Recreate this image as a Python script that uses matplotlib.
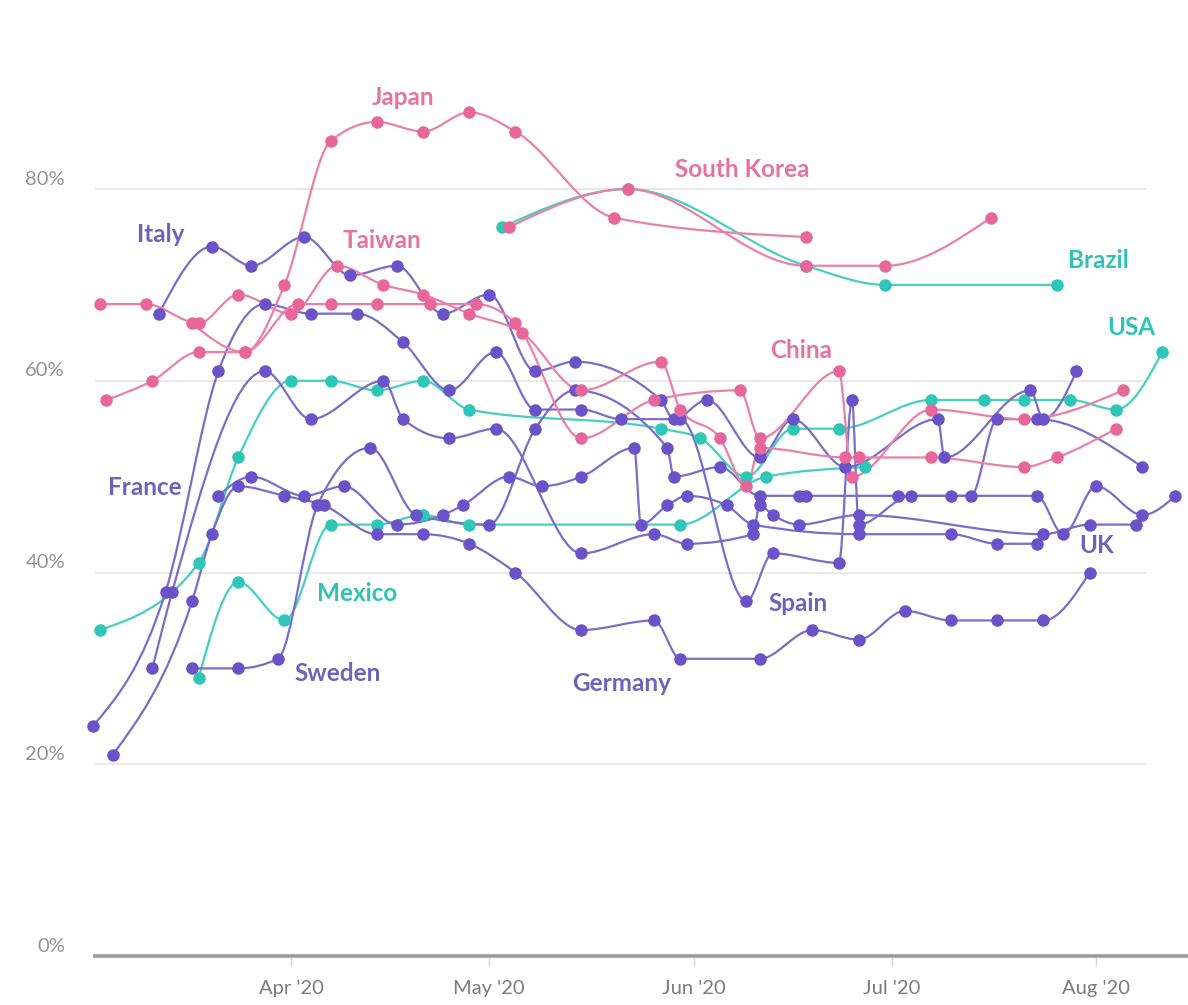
import datetime as dt
import numpy as np
import matplotlib
matplotlib.use("Agg")
import matplotlib.pyplot as plt
import matplotlib.dates as mdates
import matplotlib.transforms as mtransforms
from matplotlib.path import Path
from matplotlib.patches import PathPatch

YEAR = 2020

# ---------------- data (dates as MM-DD in 2020, values in %) ----------------
japan_dates = ["03-04", "03-11", "03-18", "03-25", "03-31", "04-07", "04-14", "04-21",
               "04-28", "05-05", "05-20", "06-18"]
japan_vals = [58, 60, 63, 63, 70, 85, 87, 86, 88, 86, 77, 75]

korea_dates = ["05-04", "05-22", "06-18", "06-30", "07-16"]
korea_vals = [76, 80, 72, 72, 77]

brazil_dates = ["05-03", "05-22", "06-18", "06-30", "07-26"]
brazil_vals = [76, 80, 72, 70, 70]

taiwan_dates = ["03-03", "03-10", "03-18", "03-24", "04-01", "04-08", "04-15", "04-21",
                "04-28", "05-06", "05-15", "05-27", "05-30", "06-05", "06-09", "06-11",
                "06-24", "06-26", "07-07", "07-21", "07-26", "08-04"]
taiwan_vals = [68, 68, 66, 69, 67, 72, 70, 69, 67, 65, 59, 62, 57, 54, 49, 53,
               52, 52, 52, 51, 52, 55]

china_dates = ["03-17", "03-25", "04-02", "04-07", "04-14", "04-22", "04-29", "05-05",
               "05-15", "05-26", "06-08", "06-11", "06-23", "06-25", "07-07", "07-21", "08-05"]
china_vals = [66, 63, 68, 68, 68, 68, 68, 66, 54, 58, 59, 54, 61, 50, 57, 56, 59]

usa_dates = ["03-03", "03-18", "03-24", "04-01", "04-07", "04-14", "04-21", "04-28",
             "05-27", "06-02", "06-09", "06-16", "06-23", "07-07", "07-15", "07-21",
             "07-28", "08-04", "08-11"]
usa_vals = [34, 41, 52, 60, 60, 59, 60, 57, 55, 54, 50, 55, 55, 58, 58, 58, 58, 57, 63]

mexico_dates = ["03-18", "03-24", "03-31", "04-07", "04-14", "04-21", "04-28", "05-30",
                "06-12", "06-27"]
mexico_vals = [29, 39, 35, 45, 45, 46, 45, 45, 50, 51]

italy_dates = ["03-12", "03-20", "03-26", "04-03", "04-10", "04-17", "04-24", "05-01",
               "05-08", "05-14", "05-27", "05-29", "06-03", "06-11", "06-16", "06-24",
               "07-08", "07-09", "07-22", "07-24", "07-29"]
italy_vals = [67, 74, 72, 75, 71, 72, 67, 69, 61, 62, 58, 56, 58, 52, 56, 51,
              56, 52, 59, 56, 61]

spain_dates = ["03-02", "03-13", "03-21", "03-28", "04-04", "04-11", "04-18", "04-25",
               "05-02", "05-08", "05-15", "05-21", "05-30", "06-09", "06-13", "06-23",
               "06-25", "06-26", "07-04", "07-13", "07-17", "07-23", "08-08"]
spain_vals = [24, 38, 61, 68, 67, 67, 64, 59, 63, 57, 57, 56, 56, 37, 42, 41,
              58, 45, 48, 48, 56, 56, 51]

uk_dates = ["03-11", "03-14", "03-28", "04-04", "04-15", "04-18", "04-25", "05-02",
            "05-15", "05-26", "05-31", "06-10", "06-11", "06-13", "06-17", "06-26",
            "07-24", "07-31", "08-07"]
uk_vals = [30, 38, 61, 56, 60, 56, 54, 55, 42, 44, 43, 44, 47, 46, 45, 46, 44, 45, 45]

france_dates = ["03-21", "03-26", "04-03", "04-09", "04-17", "04-24", "04-27", "05-04",
                "05-09", "05-15", "05-23", "05-24", "05-28", "05-31", "06-06", "06-10",
                "06-26", "07-10", "07-17", "07-23"]
france_vals = [48, 50, 48, 49, 45, 46, 47, 50, 49, 50, 53, 45, 47, 48, 47, 45,
               44, 44, 43, 43]

sweden_dates = ["03-17", "03-24", "03-30", "04-05", "04-13", "04-20", "05-01", "05-08",
                "05-14", "05-28", "05-29", "06-05", "06-11", "06-17", "06-18", "07-02",
                "07-10", "07-23", "07-27", "08-01", "08-08", "08-13"]
sweden_vals = [30, 30, 31, 47, 53, 46, 45, 55, 59, 53, 50, 51, 48, 48, 48, 48,
               48, 48, 44, 49, 46, 48]

germany_dates = ["03-05", "03-17", "03-20", "03-24", "03-31", "04-06", "04-14", "04-21",
                 "04-28", "05-05", "05-15", "05-26", "05-30", "06-11", "06-19", "06-26",
                 "07-03", "07-10", "07-17", "07-24", "07-31"]
germany_vals = [21, 37, 44, 49, 48, 47, 44, 44, 43, 40, 34, 35, 31, 31, 34, 33,
                36, 35, 35, 35, 40]

y_ticks = [0, 20, 40, 60, 80]
y_tick_labels = ["0%", "20%", "40%", "60%", "80%"]

# ---------------- styling ----------------
PINK_L, PINK_M = "#ec7fa8", "#e8679b"
PURP_L, PURP_M = "#7b6cc8", "#6a52c8"
TEAL_L, TEAL_M = "#45cfc2", "#2fc6b8"
PINK_T, PURP_T, TEAL_T = "#e5739f", "#7062bb", "#2fc3b5"

series = [
    ("Mexico", mexico_dates, mexico_vals, TEAL_L, TEAL_M),
    ("USA", usa_dates, usa_vals, TEAL_L, TEAL_M),
    ("Brazil", brazil_dates, brazil_vals, TEAL_L, TEAL_M),
    ("Germany", germany_dates, germany_vals, PURP_L, PURP_M),
    ("Sweden", sweden_dates, sweden_vals, PURP_L, PURP_M),
    ("France", france_dates, france_vals, PURP_L, PURP_M),
    ("UK", uk_dates, uk_vals, PURP_L, PURP_M),
    ("Spain", spain_dates, spain_vals, PURP_L, PURP_M),
    ("Italy", italy_dates, italy_vals, PURP_L, PURP_M),
    ("China", china_dates, china_vals, PINK_L, PINK_M),
    ("Taiwan", taiwan_dates, taiwan_vals, PINK_L, PINK_M),
    ("Japan", japan_dates, japan_vals, PINK_L, PINK_M),
    ("South Korea", korea_dates, korea_vals, PINK_L, PINK_M),
]

BASE = mdates.date2num(dt.datetime(YEAR, 3, 1))

# label positions (days after Mar 1, value)
label_layout = [
    ("Japan", 47.9, 89.5, PINK_T), ("South Korea", 99.3, 82.0, PINK_T),
    ("Italy", 11.3, 75.3, PURP_T), ("Taiwan", 44.8, 74.6, PINK_T),
    ("Brazil", 153.3, 72.5, TEAL_T), ("USA", 158.3, 65.6, TEAL_T),
    ("China", 108.3, 63.2, PINK_T), ("France", 8.9, 48.9, PURP_T),
    ("Mexico", 41.0, 37.8, TEAL_T), ("Sweden", 38.1, 29.5, PURP_T),
    ("Germany", 81.1, 28.4, PURP_T), ("Spain", 107.8, 36.8, PURP_T),
    ("UK", 153.1, 42.8, PURP_T),
]


def to_num(dates):
    return np.array([mdates.date2num(dt.datetime.strptime(f"{YEAR}-{s}", "%Y-%m-%d"))
                     for s in dates])


def monotone_path(x, y):
    """d3 curveMonotoneX rendered as cubic Bezier segments."""
    x = np.asarray(x, float)
    y = np.asarray(y, float)
    n = len(x)
    if n < 3:
        return Path(np.column_stack([x, y]))
    h = np.diff(x)
    s = np.diff(y) / h
    t = np.zeros(n)
    for i in range(1, n - 1):
        h0, h1, s0, s1 = h[i - 1], h[i], s[i - 1], s[i]
        p = (s0 * h1 + s1 * h0) / (h0 + h1)
        t[i] = (np.sign(s0) + np.sign(s1)) * min(abs(s0), abs(s1), 0.5 * abs(p))
    t[0] = (3 * s[0] - t[1]) / 2
    t[-1] = (3 * s[-1] - t[-2]) / 2
    verts = [(x[0], y[0])]
    codes = [Path.MOVETO]
    for i in range(n - 1):
        dx = h[i] / 3
        verts += [(x[i] + dx, y[i] + dx * t[i]),
                  (x[i + 1] - dx, y[i + 1] - dx * t[i + 1]),
                  (x[i + 1], y[i + 1])]
        codes += [Path.CURVE4] * 3
    return Path(verts, codes)


plt.rcParams["font.family"] = ["Lato", "DejaVu Sans"]

W, H = 1188, 1005
fig = plt.figure(figsize=(W / 100, H / 100), dpi=100)
ax_left, ax_bottom, ax_top = 95, 956, 74
ax = fig.add_axes([ax_left / W, (H - ax_bottom) / H, 1 - ax_left / W, (ax_bottom - ax_top) / H])

ax.set_xlim(BASE + 1.3, BASE + 166.9)
ax.set_ylim(0, 92)

# gridlines
grid_end = (1145 - ax_left) / (W - ax_left)
for v in y_ticks[1:]:
    ax.axhline(v, xmin=0, xmax=grid_end, color="#e7e7e7", lw=1.3, zorder=0)

# lines
for name, dts, vals, lc, mc in series:
    xs = to_num(dts)
    patch = PathPatch(monotone_path(xs, vals), facecolor="none", edgecolor=lc,
                      lw=1.6, zorder=2, clip_on=False)
    ax.add_patch(patch)
# markers
for name, dts, vals, lc, mc in series:
    xs = to_num(dts)
    ax.plot(xs, vals, "o", ms=9, color=mc, mew=0, zorder=3, clip_on=False)

# series labels
for text, dx, v, col in label_layout:
    ax.text(BASE + dx, v, text, color=col, fontsize=17.5, fontweight="bold",
            ha="center", va="center", zorder=5)

# axes styling
for side in ["left", "right", "top"]:
    ax.spines[side].set_visible(False)
ax.spines["bottom"].set_color("#9c9c9c")
ax.spines["bottom"].set_linewidth(2.6)

ax.set_yticks(y_ticks)
ax.set_yticklabels([])
ax.tick_params(axis="y", length=0)
ytrans = mtransforms.offset_copy(ax.get_yaxis_transform(), fig=fig, x=-30, y=10, units="dots")
for v, lab in zip(y_ticks, y_tick_labels):
    ax.text(0, v, lab, transform=ytrans, ha="right", va="center",
            color="#939393", fontsize=14.5)

ax.xaxis.set_major_locator(mdates.MonthLocator())
ax.xaxis.set_major_formatter(mdates.DateFormatter("%b '%y"))
ax.tick_params(axis="x", length=7, width=1, color="#d5d5d5", pad=10,
               labelcolor="#7c7c7c", labelsize=14.5)

fig.savefig("out.png", dpi=100)
